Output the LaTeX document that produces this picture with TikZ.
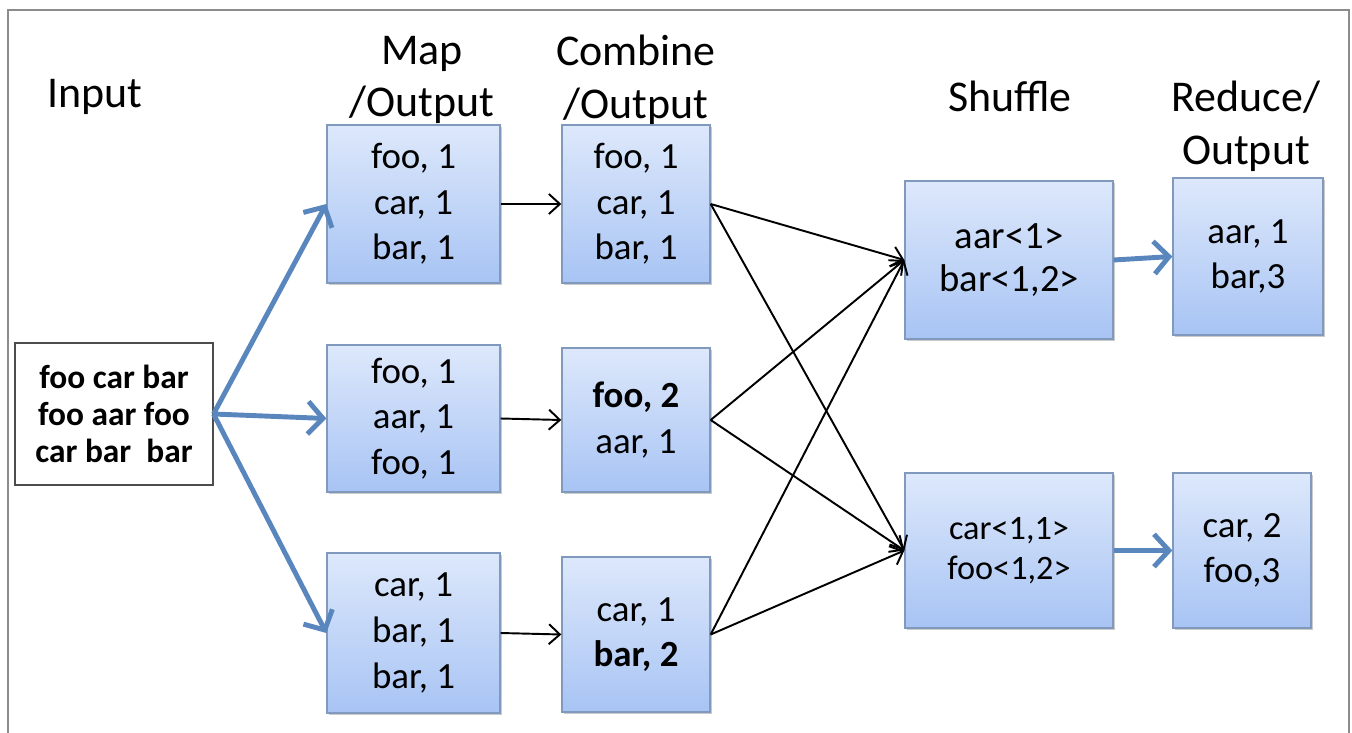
\documentclass[tikz,border=0pt]{standalone}
\usepackage{fontspec}
\setmainfont{Carlito}
\usetikzlibrary{arrows.meta,shadows}
\definecolor{boxtop}{HTML}{DDE8FB}
\definecolor{boxbot}{HTML}{A8C4F4}
\definecolor{boxline}{HTML}{8199BC}
\definecolor{flow}{HTML}{5A86BE}
\definecolor{framegray}{HTML}{8C8C8C}

\begin{document}
\begin{tikzpicture}[x=0.02cm, y=-0.02cm,
	kv/.style={draw=boxline, line width=0.8pt, top color=boxtop, bottom color=boxbot, align=center, inner sep=0pt,
		drop shadow={shadow xshift=1.2pt, shadow yshift=-1.2pt, opacity=0.35, fill=black!60},
		font=\fontsize{21}{26}\selectfont},
	hdr/.style={align=center, font=\fontsize{25}{30}\selectfont},
	flowarrow/.style={draw=flow, line width=2.8pt, -{Straight Barb[length=3mm,width=6.5mm]}},
	pass/.style={draw=black, line width=1.1pt, -{Straight Barb[length=2.2mm,width=4mm]}}]
	\useasboundingbox (0,0) rectangle (1352,733);
	\draw[framegray, line width=0.8pt] (8,733) -- (8,10) -- (1349,10) -- (1349,733);

	% column titles
	\node[hdr] (tin) at (95,97) {Input};
	\node[hdr] (tmap) at (422,80) {Map\\/Output};
	\node[hdr] (tcomb) at (636,80) {Combine\\/Output};
	\node[hdr] (tshuf) at (1010,96) {Shuffle};
	\node[hdr] (tred) at (1246,126) {Reduce/\\Output};

	\node[draw=black!70, fill=white, line width=0.6pt, minimum width=3.96cm, minimum height=2.84cm, align=center,
		font=\bfseries\fontsize{19}{21}\selectfont] (inp) at (114,414) {foo car bar\\foo aar foo\\car bar~ bar};

	\node[kv, minimum width=3.46cm, minimum height=3.16cm] (m1) at (413.5,204) {foo, 1\\car, 1\\bar, 1};
	\node[kv, minimum width=3.46cm, minimum height=2.94cm] (m2) at (413.5,418.5) {foo, 1\\aar, 1\\foo, 1};
	\node[kv, minimum width=3.46cm, minimum height=3.2cm] (m3) at (413.5,633) {car, 1\\bar, 1\\bar, 1};

	\node[kv, minimum width=2.96cm, minimum height=3.16cm] (c1) at (636,204) {foo, 1\\car, 1\\bar, 1};
	\node[kv, minimum width=2.96cm, minimum height=2.88cm] (c2) at (636,420) {\textbf{foo, 2}\\aar, 1};
	\node[kv, minimum width=2.96cm, minimum height=3.1cm] (c3) at (636,634.5) {car, 1\\\textbf{bar, 2}};

	\node[kv, minimum width=4.16cm, minimum height=3.16cm, font=\fontsize{22}{24.5}\selectfont] (s1) at (1009,260) {aar<1>\\bar<1,2>};
	\node[kv, minimum width=4.16cm, minimum height=3.1cm, font=\fontsize{19.5}{22.7}\selectfont] (s2) at (1009,550.5) {car<1,1>\\foo<1,2>};

	\node[kv, minimum width=3.0cm, minimum height=3.14cm] (r1) at (1248,256.5) {aar, 1\\bar,3};
	\node[kv, minimum width=2.76cm, minimum height=3.1cm] (r2) at (1242,550.5) {car, 2\\foo,3};

	\draw[flowarrow] (inp.east) -- (m1.west);
	\draw[flowarrow] (inp.east) -- (m2.west);
	\draw[flowarrow] (inp.east) -- (m3.west);

	\draw[pass] (m1.east) -- (c1.west);
	\draw[pass] (m2.east) -- (c2.west);
	\draw[pass] (m3.east) -- (c3.west);

	\draw[pass] (c1.east) -- (s1.west);
	\draw[pass] (c1.east) -- (s2.west);
	\draw[pass] (c2.east) -- (s1.west);
	\draw[pass] (c2.east) -- (s2.west);
	\draw[pass] (c3.east) -- (s1.west);
	\draw[pass] (c3.east) -- (s2.west);

	\draw[flowarrow] (s1.east) -- (r1.west);
	\draw[flowarrow] (s2.east) -- (r2.west);
\end{tikzpicture}
\end{document}
